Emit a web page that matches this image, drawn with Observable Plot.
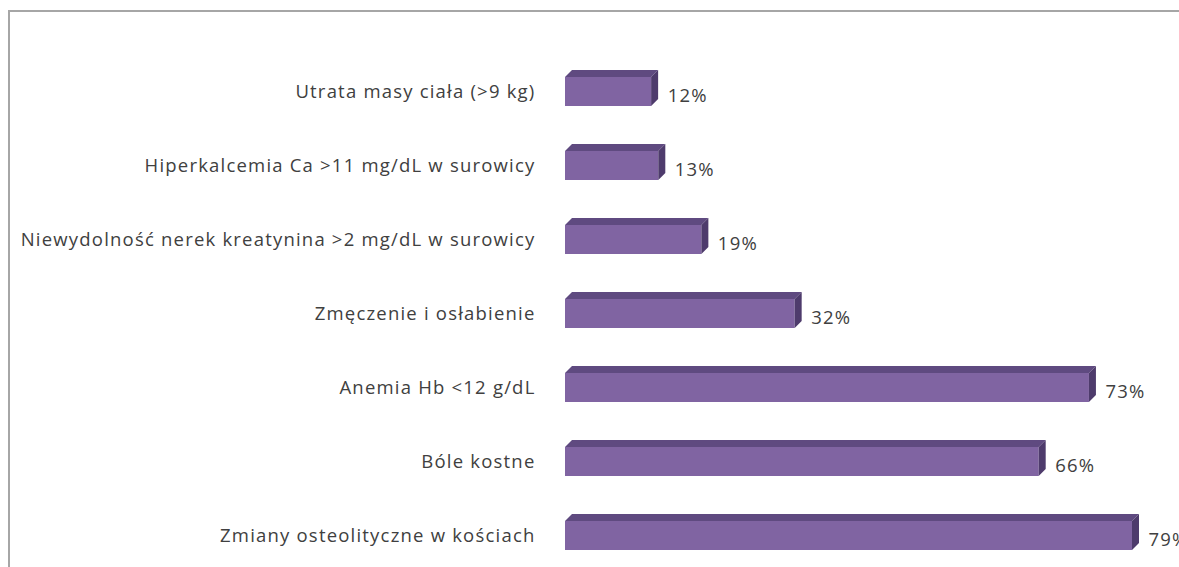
<!DOCTYPE html>
<html>
<head>
<meta charset="utf-8">
<script src="https://cdn.jsdelivr.net/npm/d3@7"></script>
<script src="https://cdn.jsdelivr.net/npm/@observablehq/plot@0.6"></script>
<style>
  html, body { margin: 0; padding: 0; background: #fff; }
  #wrap { position: relative; width: 1179px; height: 567px; overflow: hidden; }
  #border { position: absolute; left: 8px; top: 10px; width: 1200px; height: 600px;
            border-top: 2px solid #a6a6a6; border-left: 2px solid #a6a6a6; box-sizing: border-box; }
  #chart { position: absolute; left: 0; top: 0; }
</style>
</head>
<body>
<div id="wrap"><div id="border"></div><div id="chart"></div></div>
<script>
const categories = [
  "Utrata masy ciała (>9 kg)",
  "Hiperkalcemia Ca >11 mg/dL w surowicy",
  "Niewydolność nerek kreatynina >2 mg/dL w surowicy",
  "Zmęczenie i osłabienie",
  "Anemia Hb <12 g/dL",
  "Bóle kostne",
  "Zmiany osteolityczne w kościach"
];
const values = [12, 13, 19, 32, 73, 66, 79];
const valueLabels = ["12%", "13%", "19%", "32%", "73%", "66%", "79%"];

const data = categories.map((c, i) => ({label: c, value: values[i], text: valueLabels[i]}));

const FRONT = "#8064a2", TOP = "#5f4a80", SIDE = "#4e3b6c";
const D = 7;
const ns = "http://www.w3.org/2000/svg";

function poly(points, fill) {
  const p = document.createElementNS(ns, "polygon");
  p.setAttribute("points", points.map(q => q.join(",")).join(" "));
  p.setAttribute("fill", fill);
  return p;
}

const chart = Plot.plot({
  width: 1179,
  height: 567,
  marginLeft: 565,
  marginRight: 0,
  marginTop: 0,
  marginBottom: 0,
  style: {fontFamily: "'Open Sans', sans-serif", fontSize: "18.5px", letterSpacing: "1.2px", color: "#404040", background: "transparent"},
  x: {domain: [0, 79], range: [565, 1132], axis: null},
  y: {domain: categories, range: [52.6, 574.6], paddingInner: 0.612, paddingOuter: 0.3, label: null},
  marks: [
    Plot.axisY({tickSize: 0, tickPadding: 30, fontSize: 18.5, fill: "#404040"}),
    Plot.barX(data, {
      x: "value", y: "label", fill: FRONT,
      render(index, scales, vals, dims, ctx, next) {
        const g = next(index, scales, vals, dims, ctx);
        g.querySelectorAll("rect").forEach(r => {
          const x = +r.getAttribute("x"), y = +r.getAttribute("y");
          const w = +r.getAttribute("width"), h = +r.getAttribute("height");
          g.appendChild(poly([[x, y], [x + D, y - D], [x + w + D, y - D], [x + w, y]], TOP));
          g.appendChild(poly([[x + w, y], [x + w + D, y - D], [x + w + D, y + h - D], [x + w, y + h]], SIDE));
        });
        return g;
      }
    }),
    Plot.text(data, {x: "value", y: "label", text: "text", textAnchor: "start", dx: 16, dy: 4, fontSize: 18.5, fill: "#404040"})
  ]
});
document.getElementById("chart").appendChild(chart);
</script>
</body>
</html>
